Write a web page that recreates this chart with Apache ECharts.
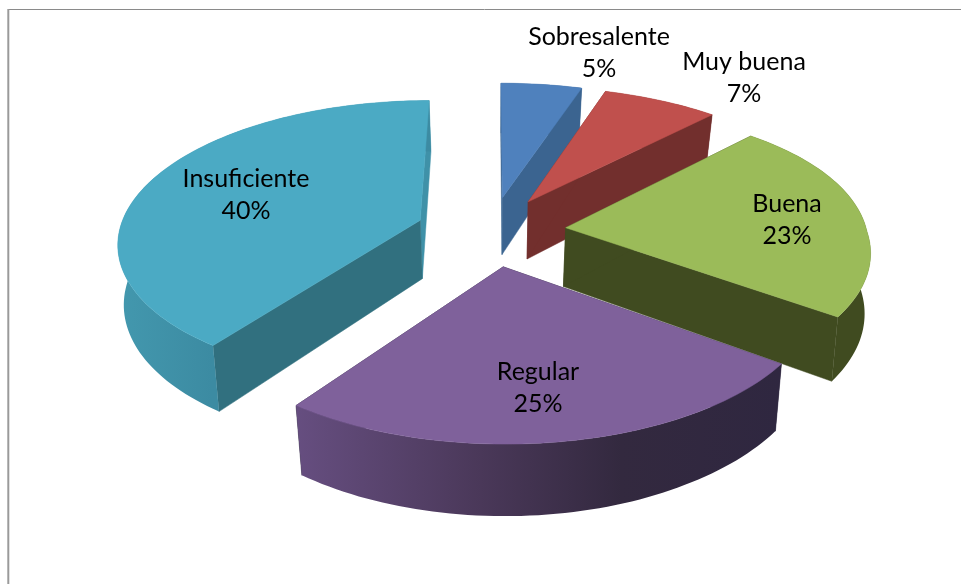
<!DOCTYPE html>
<html>
<head>
<meta charset="utf-8">
<style>html,body{margin:0;padding:0;background:#fff}#c{width:961px;height:584px}</style>
<script src="https://cdn.jsdelivr.net/npm/echarts@6/dist/echarts.min.js"></script>
</head>
<body>
<div id="c"></div>
<script>
// Data: clockwise from 12 o'clock
const categories = ['Sobresalente', 'Muy buena', 'Buena', 'Regular', 'Insuficiente'];
const values = [5, 7, 23, 25, 40];
// Styling
const topColors = ['#4f81bd', '#c0504d', '#9bbb59', '#7f619b', '#4baac4'];
const faceColors = ['#3b6490', '#722f2d', '#404b20', '#2f2740', '#31707f'];
const endFaceColors = ['#3b6490', '#722f2d', '#404b20', '#2f2740', '#3f91a8'];
const rimStops = [
  [[0, '#3b6490'], [1, '#3b6490']],
  [[0, '#722f2d'], [1, '#722f2d']],
  [[0, '#404b20'], [1, '#404b20']],
  [[0, '#664e80'], [0.38, '#4a3859'], [0.67, '#33293f'], [1, '#2f2740']],
  [[0, '#4398ae'], [0.3, '#3c8ba2'], [1, '#3c8ba2']]
];
const drawOrder = [0, 1, 2, 4, 3];
const labelAt = [[599, 53], [744, 78], [787, 220], [538, 388], [246, 195]];

// Projection of the tilted disc
const view = { cx: 491, cy: 231, rx: 301, ry: 140, persp: 0.145, explode: 0.25, depth: 59, taper: 0.03, taperMax: 6, backRight: 10 };
const FONT = 'Lato, "Open Sans", sans-serif';
const total = values.reduce((a, b) => a + b, 0);

function project(u, v, d) {
  const s = 1 / (1 + view.persp * v);
  const dx = view.rx * u * s;
  const inward = Math.min(view.taperMax, Math.abs(dx) * view.taper) * d * Math.sign(dx);
  const bias = u > 0 && v > 0 ? view.backRight * u * u * v : 0;
  return [
    view.cx + dx - inward + bias,
    view.cy - view.ry * v * s + view.depth * s * d
  ];
}

function sliceAngles(i) {
  let before = 0;
  for (let k = 0; k < i; k++) before += values[k];
  const a0 = before / total * Math.PI * 2;
  const a1 = (before + values[i]) / total * Math.PI * 2;
  return [a0, a1];
}

function renderItem(params, api) {
  const i = api.value(0);
  const [a0, a1] = sliceAngles(i);
  const mid = (a0 + a1) / 2;
  const ou = view.explode * Math.sin(mid), ov = view.explode * Math.cos(mid);
  const rimPt = (a, d) => project(ou + Math.sin(a), ov + Math.cos(a), d);
  const apex = d => project(ou, ov, d);
  const steps = Math.max(8, Math.round((a1 - a0) * 40));
  const arcTop = [], arcBot = [];
  for (let k = 0; k <= steps; k++) {
    const a = a0 + (a1 - a0) * k / steps;
    arcTop.push(rimPt(a, 0));
    arcBot.push(rimPt(a, 1));
  }
  const face = (a, color) => ({
    type: 'polygon',
    shape: { points: [apex(0), rimPt(a, 0), rimPt(a, 1), apex(1)] },
    style: { fill: color, stroke: color, lineWidth: 0.5 }
  });
  const children = [
    face(a1, endFaceColors[i]),
    face(a0, faceColors[i]),
    {
      type: 'polygon',
      shape: { points: arcTop.concat(arcBot.slice().reverse()) },
      style: {
        fill: new echarts.graphic.LinearGradient(0, 0, 1, 0,
          rimStops[i].map(s => ({ offset: s[0], color: s[1] })))
      }
    },
    {
      type: 'polygon',
      shape: { points: [apex(0)].concat(arcTop) },
      style: { fill: topColors[i], stroke: topColors[i], lineWidth: 0.5 }
    },
    {
      type: 'text',
      z2: 100,
      style: {
        x: labelAt[i][0], y: labelAt[i][1],
        text: categories[i] + '\n' + values[i] + '%',
        font: '25px ' + FONT,
        lineHeight: 32,
        fill: '#000',
        align: 'center',
        verticalAlign: 'middle'
      }
    }
  ];
  return { type: 'group', children };
}

const chart = echarts.init(document.getElementById('c'), null, { renderer: 'canvas' });
chart.setOption({
  animation: false,
  backgroundColor: '#ffffff',
  graphic: [
    { type: 'line', silent: true, shape: { x1: 8, y1: 9.5, x2: 961, y2: 9.5 }, style: { stroke: '#8a8a8a', lineWidth: 1 } },
    { type: 'line', silent: true, shape: { x1: 8.3, y1: 9, x2: 8.3, y2: 584 }, style: { stroke: '#9a9a9a', lineWidth: 2 } }
  ],
  series: [{
    type: 'custom',
    coordinateSystem: 'none',
    renderItem,
    encode: { itemName: 2 },
    data: drawOrder.map(i => ({ name: categories[i], value: [i, values[i]] }))
  }]
});
</script>
</body>
</html>
